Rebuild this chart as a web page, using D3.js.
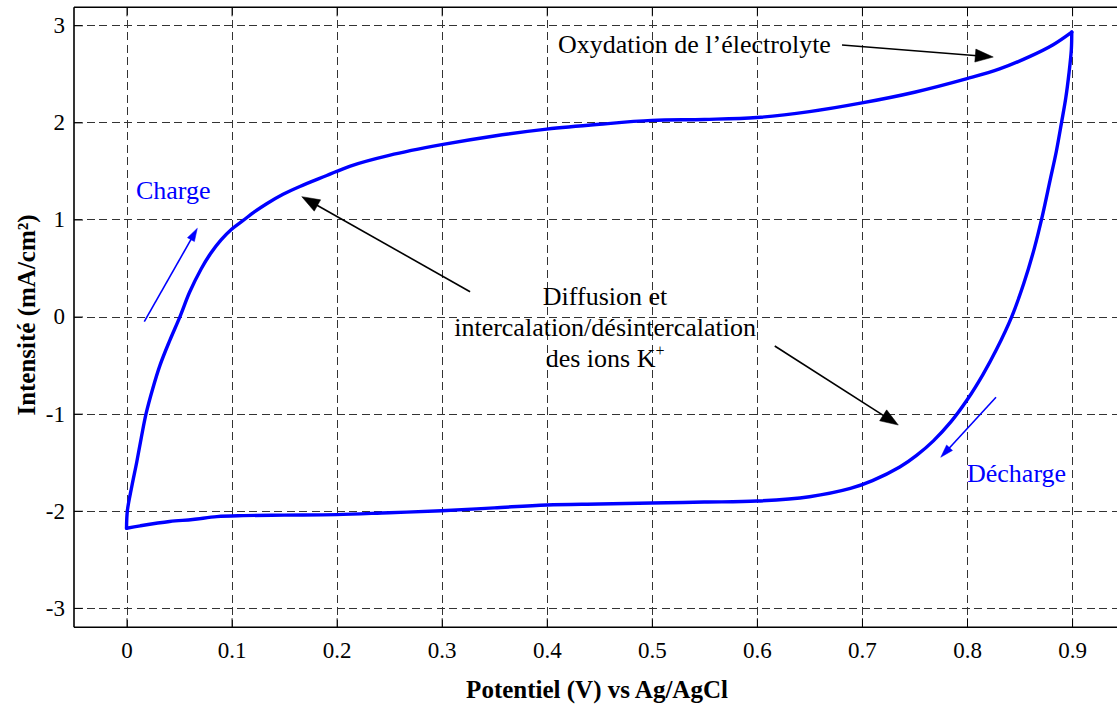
<!DOCTYPE html>
<html>
<head>
<meta charset="utf-8">
<script src="https://cdn.jsdelivr.net/npm/d3@7"></script>
<style>
  html, body { margin: 0; padding: 0; background: #fff; }
  svg { display: block; }
  text { font-family: "Liberation Serif", "Times New Roman", serif; }
</style>
</head>
<body>
<svg id="chart" width="1117" height="711"></svg>
<script>
// ---- Data ----
const xTicks = [0, 0.1, 0.2, 0.3, 0.4, 0.5, 0.6, 0.7, 0.8, 0.9];
const yTicks = [-3, -2, -1, 0, 1, 2, 3];

// forward scan (charge), potential in V, current in mA/cm²
const chargeV = [0, 0.0008, 0.005, 0.0097, 0.014, 0.0186, 0.025, 0.0319, 0.041, 0.0509, 0.06, 0.071, 0.08, 0.09, 0.1, 0.111, 0.122, 0.133, 0.149, 0.165, 0.19, 0.213, 0.25, 0.3, 0.35, 0.4, 0.45, 0.5, 0.55, 0.6, 0.65, 0.7, 0.75, 0.8, 0.831, 0.86, 0.882, 0.8997];
const chargeI = [-2.18, -2.0, -1.75, -1.5, -1.25, -1.0, -0.74, -0.5, -0.25, 0.0, 0.25, 0.49, 0.65, 0.79, 0.90, 0.99, 1.08, 1.16, 1.26, 1.34, 1.45, 1.55, 1.66, 1.77, 1.86, 1.93, 1.98, 2.02, 2.03, 2.05, 2.11, 2.20, 2.31, 2.45, 2.55, 2.68, 2.80, 2.93];

// reverse scan (discharge)
const dischargeV = [0.8997, 0.8993, 0.897, 0.894, 0.89, 0.885, 0.879, 0.872, 0.864, 0.854, 0.8426, 0.828, 0.815, 0.80, 0.785, 0.768, 0.752, 0.736, 0.71, 0.689, 0.65, 0.6, 0.55, 0.5, 0.45, 0.4, 0.35, 0.3, 0.25, 0.2, 0.15, 0.111, 0.086, 0.063, 0.041, 0.013, 0];
const dischargeI = [2.93, 2.75, 2.50, 2.25, 2.00, 1.70, 1.40, 1.05, 0.70, 0.34, 0.0, -0.34, -0.60, -0.86, -1.08, -1.28, -1.43, -1.55, -1.69, -1.77, -1.855, -1.90, -1.91, -1.92, -1.93, -1.94, -1.97, -2.00, -2.02, -2.04, -2.045, -2.05, -2.06, -2.09, -2.11, -2.155, -2.18];

// annotations (positions in data units)
const annoBlack = [
  {from: [0.681, 2.797], to: [0.825, 2.673]},
  {from: [0.327, 0.256], to: [0.1668, 1.235]},
  {from: [0.617, -0.303], to: [0.7346, -1.117]}
];
const annoBlue = [
  {from: [0.0169, -0.0525], to: [0.0674, 0.909]},
  {from: [0.8276, -0.831], to: [0.775, -1.449]}
];

// ---- Layout ----
const svg = d3.select("#chart");
const pLeft = 74, pTop = 7.3, pBottom = 627.3, pRight = 1117;
const x = d3.scaleLinear().domain([-0.05, 1.0]).range([pLeft, pLeft + 1.05 * 1050.6]);
const y = d3.scaleLinear().domain([-3.2, 3.185]).range([pBottom, pTop]);
const fmt = d => String(d);

// grid
const grid = svg.append("g").attr("stroke", "#333").attr("stroke-width", 1)
  .attr("stroke-dasharray", "8,4.5").attr("shape-rendering", "crispEdges");
grid.selectAll("line.v").data(xTicks).join("line").attr("class", "v")
  .attr("x1", d => Math.round(x(d)) + 0.5).attr("x2", d => Math.round(x(d)) + 0.5)
  .attr("y1", pTop).attr("y2", pBottom);
grid.selectAll("line.h").data(yTicks).join("line").attr("class", "h")
  .attr("y1", d => Math.round(y(d)) + 0.5).attr("y2", d => Math.round(y(d)) + 0.5)
  .attr("x1", pLeft).attr("x2", pRight);

// axes (ticks inward)
const axB = d3.axisBottom(x).tickValues(xTicks).tickSize(-9).tickPadding(14).tickFormat(fmt);
const axT = d3.axisTop(x).tickValues(xTicks).tickSize(-9).tickFormat("");
const axL = d3.axisLeft(y).tickValues(yTicks).tickSize(-9).tickPadding(9).tickFormat(fmt);

function styleAxis(g) {
  g.attr("font-family", null).attr("font-size", null);
  g.select(".domain").remove();
  g.selectAll(".tick line").attr("stroke", "#000").attr("stroke-width", 1);
  g.selectAll(".tick text").style("font-family", "'Liberation Serif', 'Times New Roman', serif")
    .style("font-size", "23px").attr("fill", "#000");
}
svg.append("g").attr("transform", `translate(0,${pBottom})`).call(axB).call(styleAxis);
svg.append("g").attr("transform", `translate(0,${pTop})`).call(axT).call(styleAxis);
svg.append("g").attr("transform", `translate(${pLeft},0)`).call(axL).call(styleAxis);

// frame
const frame = svg.append("g").attr("stroke", "#000").attr("stroke-width", 1.6).attr("fill", "none");
frame.append("line").attr("x1", pLeft).attr("x2", pRight).attr("y1", pTop).attr("y2", pTop);
frame.append("line").attr("x1", pLeft).attr("x2", pRight).attr("y1", pBottom).attr("y2", pBottom);
frame.append("line").attr("x1", pLeft).attr("x2", pLeft).attr("y1", pTop).attr("y2", pBottom);

// curve
const line = d3.line().x(d => x(d[0])).y(d => y(d[1])).curve(d3.curveCatmullRom.alpha(0.5));
const chargePts = chargeV.map((v, i) => [v, chargeI[i]]);
const dischargePts = dischargeV.map((v, i) => [v, dischargeI[i]]);
svg.append("g").attr("fill", "none").attr("stroke", "#0000ff").attr("stroke-width", 3.4)
  .attr("stroke-linejoin", "round").attr("stroke-linecap", "round")
  .selectAll("path").data([chargePts, dischargePts]).join("path").attr("d", line);

// arrows
function arrow(g, a, color, width, headLen, headW) {
  const x1 = x(a.from[0]), y1 = y(a.from[1]), x2 = x(a.to[0]), y2 = y(a.to[1]);
  const ang = Math.atan2(y2 - y1, x2 - x1);
  const bx = x2 - headLen * Math.cos(ang), by = y2 - headLen * Math.sin(ang);
  g.append("line").attr("x1", x1).attr("y1", y1).attr("x2", bx + Math.cos(ang) * 2).attr("y2", by + Math.sin(ang) * 2)
    .attr("stroke", color).attr("stroke-width", width);
  const px = -Math.sin(ang) * headW / 2, py = Math.cos(ang) * headW / 2;
  g.append("polygon").attr("points", `${x2},${y2} ${bx + px},${by + py} ${bx - px},${by - py}`)
    .attr("fill", color).attr("stroke", color).attr("stroke-width", 0.5);
}
const ag = svg.append("g");
annoBlack.forEach(a => arrow(ag, a, "#000", 1.6, 18, 13));
annoBlue.forEach(a => arrow(ag, a, "#0000ff", 1.6, 13, 8));

// annotation texts
const txt = svg.append("g").attr("font-size", 26);
txt.append("text").attr("x", x(0.4107)).attr("y", y(2.712)).attr("fill", "#000").text("Oxydation de l\u2019\u00e9lectrolyte");
txt.append("text").attr("x", x(0.009)).attr("y", y(1.206)).attr("fill", "#0000ff").text("Charge");
txt.append("text").attr("x", x(0.800)).attr("y", y(-1.70)).attr("fill", "#0000ff").text("D\u00e9charge");
const cx = x(0.4555);
txt.append("text").attr("x", cx).attr("y", y(0.116)).attr("text-anchor", "middle").text("Diffusion et");
txt.append("text").attr("x", cx).attr("y", y(-0.2018)).attr("text-anchor", "middle").text("intercalation/d\u00e9sintercalation");
const t3 = txt.append("text").attr("x", cx).attr("y", y(-0.521)).attr("text-anchor", "middle");
t3.append("tspan").text("des ions K");
t3.append("tspan").attr("font-size", 16).attr("dy", -11).text("+");

// axis titles
svg.append("text").attr("x", 597).attr("y", 698).attr("text-anchor", "middle")
  .attr("font-weight", "bold").attr("font-size", 25).text("Potentiel (V) vs Ag/AgCl");
svg.append("text").attr("transform", "translate(35,315) rotate(-90)").attr("text-anchor", "middle")
  .attr("font-weight", "bold").attr("font-size", 25).text("Intensit\u00e9 (mA/cm\u00b2)");
</script>
</body>
</html>
